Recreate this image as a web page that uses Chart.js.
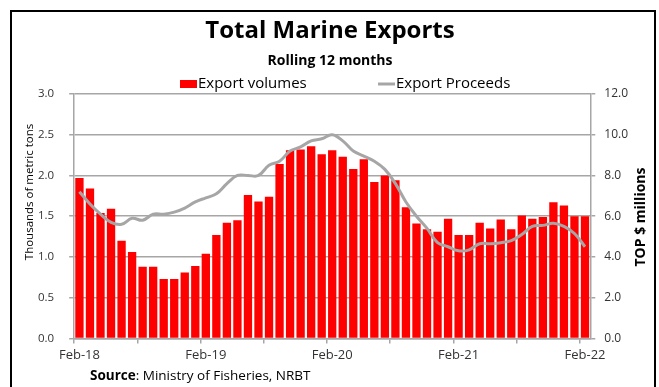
<!DOCTYPE html>
<html>
<head>
<meta charset="utf-8">
<script src="https://cdn.jsdelivr.net/npm/chart.js@4.4.1/dist/chart.umd.min.js"></script>
<style>
    html, body { margin: 0; padding: 0; background: #fff; overflow: hidden; }
    #frame { position: absolute; left: 10px; top: 10px; width: 642px; height: 392px; border: 2px solid #000; }
    #wrap { position: absolute; left: 0; top: 0; width: 659px; height: 387px; }
</style>
</head>
<body>
<div id="frame"></div>
<div id="wrap"><canvas id="myChart"></canvas></div>
<script>
const months = [
    'Feb-18', 'Mar-18', 'Apr-18', 'May-18', 'Jun-18', 'Jul-18', 'Aug-18', 'Sep-18', 'Oct-18', 'Nov-18', 'Dec-18', 'Jan-19',
    'Feb-19', 'Mar-19', 'Apr-19', 'May-19', 'Jun-19', 'Jul-19', 'Aug-19', 'Sep-19', 'Oct-19', 'Nov-19', 'Dec-19', 'Jan-20',
    'Feb-20', 'Mar-20', 'Apr-20', 'May-20', 'Jun-20', 'Jul-20', 'Aug-20', 'Sep-20', 'Oct-20', 'Nov-20', 'Dec-20', 'Jan-21',
    'Feb-21', 'Mar-21', 'Apr-21', 'May-21', 'Jun-21', 'Jul-21', 'Aug-21', 'Sep-21', 'Oct-21', 'Nov-21', 'Dec-21', 'Jan-22',
    'Feb-22'
];

// thousands of metric tons (left axis)
const exportVolumes = [
    1.97, 1.84, 1.54, 1.59, 1.20, 1.06, 0.88, 0.88, 0.73, 0.73, 0.81, 0.89,
    1.04, 1.27, 1.42, 1.45, 1.76, 1.68, 1.74, 2.14, 2.31, 2.32, 2.36, 2.26,
    2.31, 2.23, 2.08, 2.20, 1.92, 2.00, 1.94, 1.61, 1.41, 1.34, 1.31, 1.47,
    1.27, 1.27, 1.42, 1.35, 1.46, 1.34, 1.51, 1.47, 1.49, 1.67, 1.63, 1.50,
    1.50
];

// TOP$ millions (right axis)
const exportProceeds = [
    7.2, 6.6, 6.1, 5.7, 5.6, 5.9, 5.8, 6.1, 6.1, 6.2, 6.4, 6.7,
    6.9, 7.1, 7.6, 8.0, 8.0, 8.0, 8.5, 8.7, 9.2, 9.4, 9.7, 9.8,
    10.0, 9.7, 9.2, 8.95, 8.7, 8.3, 7.6, 6.7, 6.0, 5.4, 4.7, 4.5,
    4.3, 4.35, 4.65, 4.65, 4.7, 4.8, 5.1, 5.5, 5.55, 5.65, 5.5, 5.15,
    4.5
];

const leftTicks = [0, 0.5, 1, 1.5, 2, 2.5, 3];
const rightTicks = [0, 2, 4, 6, 8, 10, 12];

const FONT = '"Open Sans", sans-serif';
const GRID = '#a6a6a6';
const RED = '#ff0000';

// axis titles + legend + source drawn by hand (right title reads bottom to top)
const extras = {
    id: 'extras',
    afterDraw(chart) {
        const c = chart.ctx;
        const ds = chart.data.datasets;
        c.save();
        c.fillStyle = '#000';
        c.textBaseline = 'middle';

        c.save();
        c.translate(30, 192);
        c.rotate(-Math.PI / 2);
        c.textAlign = 'center';
        c.font = '11.5px ' + FONT;
        c.fillText('Thousands of metric tons', 0, 0);
        c.restore();

        c.save();
        c.translate(641, 217);
        c.rotate(-Math.PI / 2);
        c.textAlign = 'center';
        c.font = 'bold 14px ' + FONT;
        c.fillText('TOP $ millions', 0, 0);
        c.restore();

        // legend
        c.font = '15px ' + FONT;
        c.fillStyle = ds[0].backgroundColor;
        c.fillRect(180, 80, 17, 8);
        c.fillStyle = '#000';
        c.fillText(ds[0].label, 198, 84);
        c.strokeStyle = ds[1].borderColor;
        c.lineWidth = 3;
        c.beginPath();
        c.moveTo(378, 84);
        c.lineTo(395, 84);
        c.stroke();
        c.fillText(ds[1].label, 396, 84);

        // source
        c.font = 'bold 13.5px ' + FONT;
        c.fillText('Source', 90, 376);
        const w = c.measureText('Source').width;
        c.font = '13.5px ' + FONT;
        c.fillText(': Ministry of Fisheries, NRBT', 90 + w, 376);
        c.restore();
    }
};

const ctx = document.getElementById('myChart');

new Chart(ctx, {
    type: 'bar',
    data: {
        labels: months,
        datasets: [{
                label: 'Export volumes',
                data: exportVolumes,
                backgroundColor: RED,
                borderWidth: 0,
                barPercentage: 0.79,
                categoryPercentage: 1.0,
                yAxisID: 'y',
                order: 1
            }, {
                type: 'line',
                label: 'Export Proceeds',
                data: exportProceeds,
                borderColor: '#a6a6a6',
                backgroundColor: '#a6a6a6',
                borderWidth: 3,
                pointRadius: 0,
                tension: 0.4,
                yAxisID: 'y1',
                order: 0
            }]
    },
    options: {
        responsive: true,
        maintainAspectRatio: false,
        animation: false,
        layout: {
            // tick padding is counted twice in the axis width, hence the small side paddings
            padding: {left: 23, right: 22, top: 0, bottom: 20}
        },
        plugins: {
            title: {
                display: true,
                text: 'Total Marine Exports',
                color: '#000',
                font: {family: FONT, size: 24, weight: 'bold'},
                padding: {top: 16.6, bottom: 4}
            },
            subtitle: {
                display: true,
                text: 'Rolling 12 months',
                color: '#000',
                font: {family: FONT, size: 14, weight: 'bold'},
                padding: {top: 3.2, bottom: 24.6}
            },
            legend: {display: false},
            tooltip: {enabled: false}
        },
        scales: {
            x: {
                afterFit: (s) => { s.paddingLeft = 0; s.paddingRight = 0; },
                grid: {
                    offset: true,
                    drawOnChartArea: false,
                    tickLength: 5,
                    color: (c) => (c.index % 6 === 0 ? GRID : 'rgba(0,0,0,0)'),
                    lineWidth: 1.5
                },
                border: {color: GRID, width: 1.5},
                ticks: {
                    autoSkip: false,
                    maxRotation: 0,
                    padding: 4,
                    color: '#333',
                    font: {family: FONT, size: 13},
                    callback: function (v, i) {
                        return i % 12 === 0 ? this.getLabelForValue(v) : '';
                    }
                }
            },
            y: {
                position: 'left',
                min: 0,
                max: 3,
                afterBuildTicks: (s) => { s.ticks = leftTicks.map(v => ({value: v})); },
                ticks: {
                    color: '#333',
                    font: {family: FONT, size: 11.5},
                    padding: 15,
                    callback: (v) => v.toFixed(1)
                },
                grid: {color: GRID, lineWidth: 1.5, tickLength: 5},
                border: {color: GRID, width: 1.5}
            },
            y1: {
                position: 'right',
                min: 0,
                max: 12,
                afterBuildTicks: (s) => { s.ticks = rightTicks.map(v => ({value: v})); },
                ticks: {
                    color: '#333',
                    font: {family: FONT, size: 12},
                    padding: 9,
                    callback: (v) => v.toFixed(1)
                },
                grid: {drawOnChartArea: false, color: GRID, lineWidth: 1.5, tickLength: 5},
                border: {color: GRID, width: 1.5}
            }
        }
    },
    plugins: [extras]
});
</script>
</body>
</html>
